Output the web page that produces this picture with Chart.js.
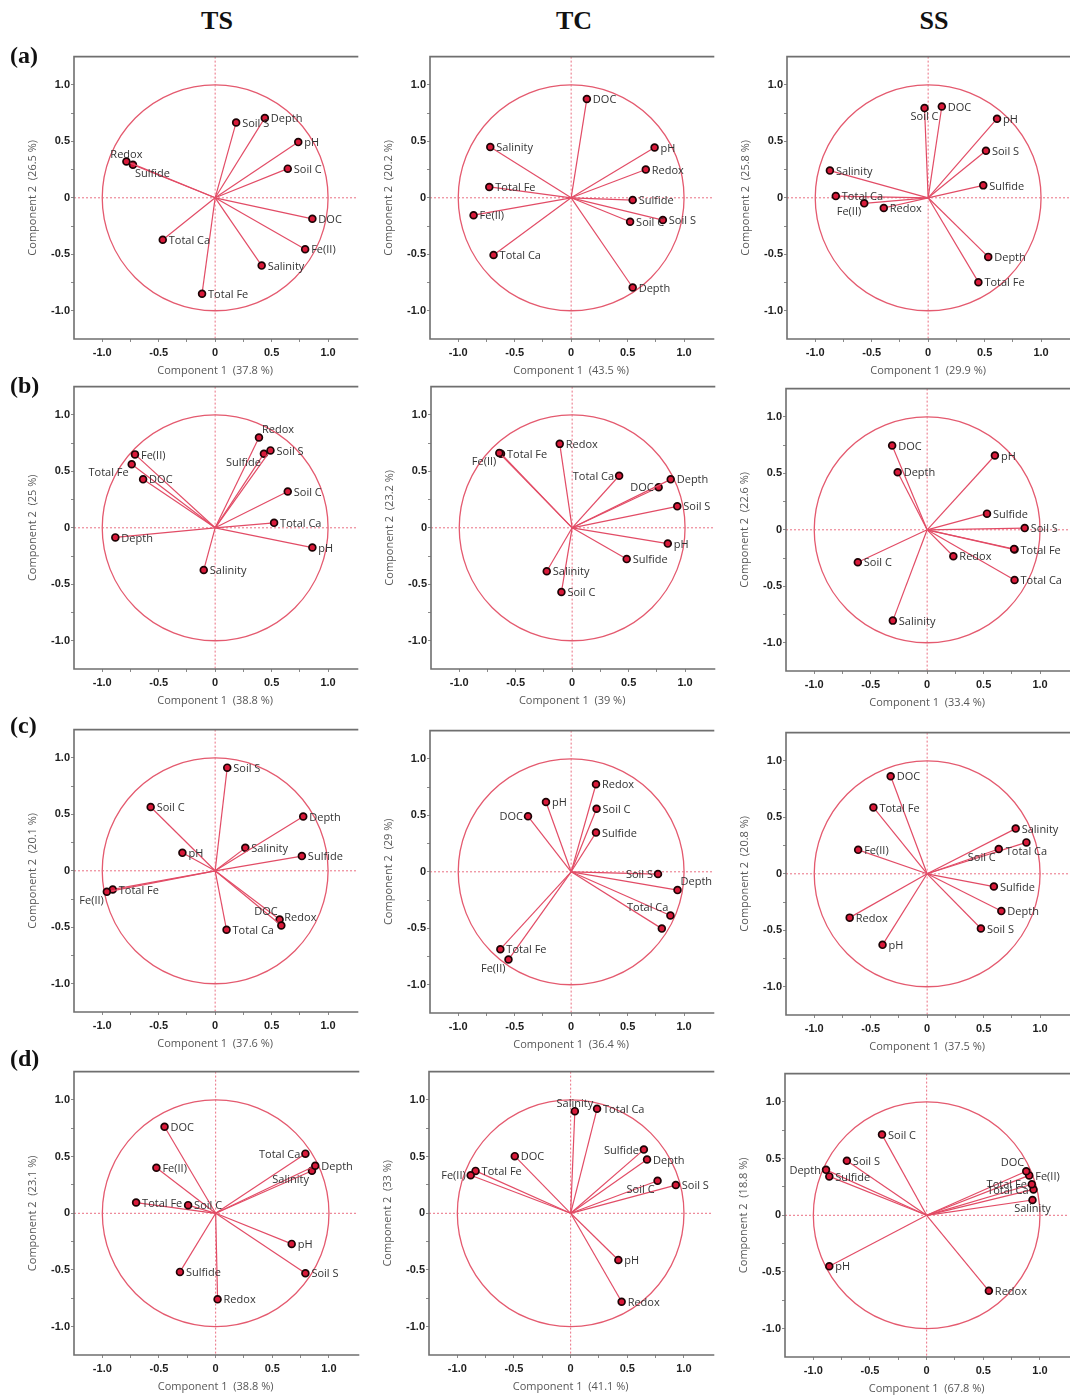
<!DOCTYPE html>
<html>
<head>
<meta charset="utf-8">
<script src="https://cdn.jsdelivr.net/npm/chart.js@4.4.1/dist/chart.umd.min.js"></script>
<style>
  html, body { margin: 0; padding: 0; background: #fff; }
  body { width: 1070px; height: 1395px; position: relative; overflow: hidden; }
  canvas { position: absolute; }
  .hdr { position: absolute; font-family: "Liberation Serif", "Times New Roman", serif; font-weight: bold; color: #111; line-height: 1; z-index: 2; }
  .col { font-size: 26px; transform: translateX(-50%); }
  .row { font-size: 24px; left: 10px; }
</style>
</head>
<body>
<div class="hdr col" style="left:217px;top:8px">TS</div>
<div class="hdr col" style="left:574px;top:8px">TC</div>
<div class="hdr col" style="left:934px;top:8px">SS</div>
<div class="hdr row" style="top:43px">(a)</div>
<div class="hdr row" style="top:373px">(b)</div>
<div class="hdr row" style="top:713px">(c)</div>
<div class="hdr row" style="top:1046px">(d)</div>
<script>
// variable order used by every loading array below
const variables = ['Depth', 'Salinity', 'pH', 'Redox', 'Soil C', 'Soil S', 'DOC', 'Sulfide', 'Fe(II)', 'Total Fe', 'Total Ca'];
const tickVals = [-1, -0.75, -0.5, -0.25, 0, 0.25, 0.5, 0.75, 1];

// explained variance, panel order aTS aTC aSS bTS ... dSS
const pc1Pct = ['37.8', '43.5', '29.9', '38.8', '39', '33.4', '37.6', '36.4', '37.5', '38.8', '41.1', '67.8'];
const pc2Pct = ['26.5', '20.2', '25.8', '25', '23.2', '22.6', '20.1', '29', '20.8', '23.1', '33', '18.8'];

// loadings (component 1 / component 2)
const aTS_x = [0.44, 0.412, 0.736, -0.786, 0.643, 0.186, 0.861, -0.728, 0.797, -0.116, -0.464];
const aTS_y = [0.707, -0.60, 0.493, 0.322, 0.258, 0.667, -0.186, 0.293, -0.456, -0.849, -0.372];
const aTC_x = [0.545, -0.716, 0.739, 0.661, 0.522, 0.812, 0.139, 0.545, -0.864, -0.725, -0.687];
const aTC_y = [-0.794, 0.45, 0.445, 0.25, -0.212, -0.197, 0.875, -0.02, -0.154, 0.096, -0.507];
const aSS_x = [0.532, -0.87, 0.61, -0.393, -0.032, 0.512, 0.121, 0.488, -0.566, 0.445, -0.818];
const aSS_y = [-0.523, 0.241, 0.70, -0.09, 0.794, 0.416, 0.808, 0.11, -0.049, -0.747, 0.015];

const bTS_x = [-0.884, -0.101, 0.861, 0.388, 0.643, 0.49, -0.638, 0.432, -0.71, -0.739, 0.522];
const bTS_y = [-0.085, -0.373, -0.175, 0.80, 0.321, 0.685, 0.429, 0.656, 0.65, 0.563, 0.044];
const bTC_x = [0.873, -0.225, 0.847, -0.11, -0.095, 0.931, 0.766, 0.483, -0.645, -0.63, 0.416];
const bTC_y = [0.429, -0.385, -0.14, 0.743, -0.569, 0.19, 0.359, -0.277, 0.662, 0.656, 0.461];
const bSS_x = [-0.261, -0.304, 0.6, 0.232, -0.614, 0.864, -0.31, 0.53, 0.77, 0.774, 0.774];
const bSS_y = [0.509, -0.804, 0.658, -0.234, -0.287, 0.015, 0.746, 0.143, -0.17, -0.175, -0.444];

const cTS_x = [0.78, 0.267, -0.29, 0.586, -0.571, 0.107, 0.571, 0.768, -0.959, -0.907, 0.101];
const cTS_y = [0.481, 0.203, 0.159, -0.484, 0.565, 0.913, -0.432, 0.13, -0.186, -0.165, -0.522];
const cTC_x = [0.942, 0.803, -0.223, 0.22, 0.225, 0.769, -0.382, 0.22, -0.555, -0.627, 0.879];
const cTC_y = [-0.162, -0.503, 0.618, 0.775, 0.558, -0.02, 0.491, 0.347, -0.777, -0.685, -0.387];
const cSS_x = [0.657, 0.784, -0.395, -0.686, 0.634, 0.476, -0.323, 0.591, -0.611, -0.476, 0.879];
const cSS_y = [-0.33, 0.40, -0.629, -0.388, 0.22, -0.484, 0.864, -0.113, 0.212, 0.588, 0.278];

const dTS_x = [0.879, 0.85, 0.671, 0.017, -0.243, 0.792, -0.451, -0.315, -0.523, -0.702, 0.792];
const dTS_y = [0.42, 0.376, -0.27, -0.759, 0.072, -0.529, 0.764, -0.517, 0.402, 0.095, 0.526];
const dTC_x = [0.674, 0.037, 0.421, 0.45, 0.767, 0.928, -0.493, 0.646, -0.882, -0.839, 0.233];
const dTC_y = [0.475, 0.901, -0.412, -0.78, 0.287, 0.249, 0.504, 0.562, 0.336, 0.374, 0.922];
const dSS_x = [-0.888, 0.934, -0.859, 0.549, -0.394, -0.704, 0.879, -0.859, 0.905, 0.928, 0.943];
const dSS_y = [0.401, 0.135, -0.45, -0.666, 0.712, 0.481, 0.389, 0.343, 0.352, 0.274, 0.228];

// where each variable name sits relative to its point ('' = hidden behind another label)
const aTS_lab = ['r', 'r', 'r', 't', 'r', 'r', 'r', 'br', 'r', 'r', 'r'];
const aTC_lab = ['r', 'r', 'r', 'r', 'r', 'r', 'r', 'r', 'r', 'r', 'r'];
const aSS_lab = ['r', 'r', 'r', 'r', 'b', 'r', 'r', 'r', 'bl', 'r', 'r'];
const bTS_lab = ['r', 'r', 'r', 'tr', 'r', 'r', 'r', 'bl', 'r', 'bl', 'r'];
const bTC_lab = ['r', 'r', 'r', 'r', 'r', 'r', 'l', 'r', 'bl', 'r', 'l'];
const bSS_lab = ['r', 'r', 'r', 'r', 'r', 'r', 'r', 'r', '', 'r', 'r'];
const cTS_lab = ['r', 'r', 'r', 'tr', 'r', 'r', 'tl', 'r', 'bl', 'r', 'r'];
const cTC_lab = ['tr', '', 'r', 'r', 'r', 'l', 'l', 'r', 'bl', 'r', 'tl'];
const cSS_lab = ['r', 'r', 'r', 'r', 'bl', 'r', 'r', 'r', 'r', 'r', 'b'];
const dTS_lab = ['r', 'bl', 'r', 'r', 'r', 'r', 'r', 'r', 'r', 'r', 'l'];
const dTC_lab = ['r', 't', 'r', 'r', 'bl', 'r', 'r', 'l', 'l', 'r', 'r'];
const dSS_lab = ['l', 'b', 'r', 'r', 'r', 'r', 'tl', 'r', 'r', 'l', 'l'];

const panels = [
  [aTS_x, aTS_y, aTS_lab], [aTC_x, aTC_y, aTC_lab], [aSS_x, aSS_y, aSS_lab],
  [bTS_x, bTS_y, bTS_lab], [bTC_x, bTC_y, bTC_lab], [bSS_x, bSS_y, bSS_lab],
  [cTS_x, cTS_y, cTS_lab], [cTC_x, cTC_y, cTC_lab], [cSS_x, cSS_y, cSS_lab],
  [dTS_x, dTS_y, dTS_lab], [dTC_x, dTC_y, dTC_lab], [dSS_x, dSS_y, dSS_lab]
];

// plot-area boxes on the page
const plotLeft = [74, 429.5, 786.5, 74, 430.5, 786.3, 74, 430.3, 786.3, 74, 429, 784.7];
const plotTop = [50.5, 50.5, 50.5, 381.3, 381.3, 383, 724, 725, 727.3, 1066.4, 1065.7, 1067.7];
const plotSize = [288, 288, 288, 288, 288, 288, 288, 288, 288, 289, 289, 289];

const Y_AXIS_W = 62, X_AXIS_H = 42, PAD_TOP = 2;

Chart.defaults.font.family = '"Liberation Sans", Arial, sans-serif';

const placeOff = {
  r: [6, 1, 'left'], l: [-5, 1, 'right'], bl: [-3, 9, 'right'], br: [2, 9, 'left'],
  b: [0, 9, 'center'], t: [0, -7, 'center'], tl: [-2, -8, 'right'], tr: [3, -8, 'left']
};

const framePlugin = {
  id: 'pcaFrame',
  beforeDatasetsDraw(chart) {
    const { ctx, chartArea: a, scales: { x, y } } = chart;
    const cx = x.getPixelForValue(0), cy = y.getPixelForValue(0);
    ctx.save();
    ctx.strokeStyle = '#ea6f82';
    ctx.lineWidth = 1;
    ctx.setLineDash([2, 2]);
    ctx.beginPath();
    ctx.moveTo(cx, a.top); ctx.lineTo(cx, a.bottom);
    ctx.moveTo(a.left, cy); ctx.lineTo(a.right, cy);
    ctx.stroke();
    ctx.setLineDash([]);
    ctx.strokeStyle = '#e45a6f';
    ctx.lineWidth = 1.3;
    ctx.beginPath();
    ctx.ellipse(cx, cy, x.getPixelForValue(1) - cx, cy - y.getPixelForValue(1), 0, 0, Math.PI * 2);
    ctx.stroke();
    ctx.restore();
  },
  afterDraw(chart) {
    const { ctx, chartArea: a } = chart;
    ctx.save();
    ctx.strokeStyle = '#6f6f6f';
    ctx.lineWidth = 1.6;
    ctx.beginPath();
    ctx.moveTo(a.right + 2, a.top); ctx.lineTo(a.left, a.top);
    ctx.lineTo(a.left, a.bottom); ctx.lineTo(a.right + 2, a.bottom);
    ctx.stroke();
    ctx.restore();
  }
};

const labelPlugin = {
  id: 'varLabels',
  afterDatasetsDraw(chart, args, opts) {
    const { ctx, scales: { x, y } } = chart;
    ctx.save();
    ctx.font = '11px "Open Sans", "Noto Sans", sans-serif';
    ctx.fillStyle = '#333';
    ctx.textBaseline = 'middle';
    chart.data.datasets.forEach((ds, i) => {
      const code = opts.places[i];
      if (!code) return;
      const off = placeOff[code];
      const p = ds.data[1];
      ctx.textAlign = off[2];
      ctx.fillText(ds.label, x.getPixelForValue(p.x) + off[0], y.getPixelForValue(p.y) + off[1]);
    });
    ctx.restore();
  }
};

function tickLabel(v) {
  if (Math.abs(v * 2 - Math.round(v * 2)) > 1e-9) return '';
  return v === 0 ? '0' : v.toFixed(1);
}

function axis(title, isY) {
  return {
    type: 'linear',
    min: -1.25,
    max: 1.25,
    afterBuildTicks: sc => { sc.ticks = tickVals.map(v => ({ value: v })); },
    afterFit: sc => { if (isY) sc.width = Y_AXIS_W; else sc.height = X_AXIS_H; },
    ticks: {
      callback: tickLabel,
      autoSkip: false,
      maxRotation: 0,
      padding: isY ? 1 : 4,
      color: '#1e1e1e',
      font: { size: 11, weight: 'bold' }
    },
    grid: { drawOnChartArea: false, drawTicks: true, tickLength: 3, color: '#8a8a8a' },
    border: { display: false },
    title: {
      display: true,
      text: title,
      color: '#575757',
      font: { family: '"Open Sans", "Noto Sans", sans-serif', size: 11 },
      padding: isY ? { top: 14 } : { bottom: 4 }
    }
  };
}

panels.forEach(([xs, ys, labs], k) => {
  const size = plotSize[k];
  const cv = document.createElement('canvas');
  cv.width = Y_AXIS_W + size;
  cv.height = PAD_TOP + size + X_AXIS_H;
  cv.style.left = (plotLeft[k] - Y_AXIS_W) + 'px';
  cv.style.top = (plotTop[k] - PAD_TOP) + 'px';
  document.body.appendChild(cv);

  new Chart(cv.getContext('2d'), {
    type: 'scatter',
    data: {
      datasets: variables.map((v, i) => ({
        label: v,
        data: [{ x: 0, y: 0 }, { x: xs[i], y: ys[i] }],
        showLine: true,
        borderColor: '#e24c66',
        borderWidth: 1.2,
        pointRadius: c => c.dataIndex === 1 ? 3.4 : 0,
        pointBackgroundColor: '#d91a3a',
        pointBorderColor: '#1c0305',
        pointBorderWidth: 1.7,
        clip: false
      }))
    },
    options: {
      responsive: false,
      maintainAspectRatio: false,
      animation: false,
      devicePixelRatio: 1,
      layout: { padding: { top: PAD_TOP } },
      plugins: {
        legend: { display: false },
        tooltip: { enabled: false },
        varLabels: { places: labs }
      },
      scales: {
        x: axis('Component 1  (' + pc1Pct[k] + ' %)', false),
        y: axis('Component 2  (' + pc2Pct[k] + ' %)', true)
      }
    },
    plugins: [framePlugin, labelPlugin]
  });
});
</script>
</body>
</html>
